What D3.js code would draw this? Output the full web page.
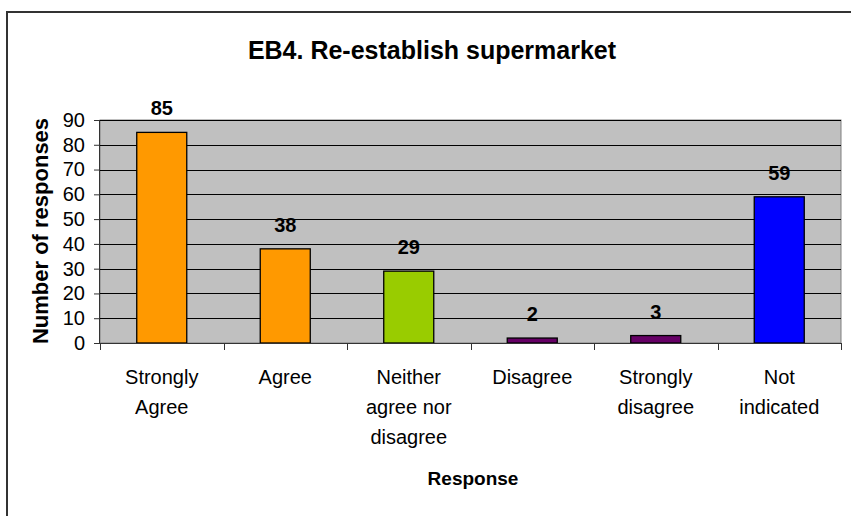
<!DOCTYPE html>
<html>
<head>
<meta charset="utf-8">
<script src="https://cdn.jsdelivr.net/npm/d3@7"></script>
<style>
  html, body { margin: 0; padding: 0; background: #fff; }
  svg { display: block; font-family: "Liberation Sans", Arial, sans-serif; }
</style>
</head>
<body>
<svg id="chart" width="851" height="516"></svg>
<script>
(function () {
  "use strict";

  // data
  const categories = [
    ["Strongly", "Agree"],
    ["Agree"],
    ["Neither", "agree nor", "disagree"],
    ["Disagree"],
    ["Strongly", "disagree"],
    ["Not", "indicated"],
  ];
  const values = [85, 38, 29, 2, 3, 59];
  const barColors = ["#ff9900", "#ff9900", "#99cc00", "#660066", "#660066", "#0000ff"];
  const yTicks = [0, 10, 20, 30, 40, 50, 60, 70, 80, 90];

  const W = 851, H = 516;
  const m = { t: 120, l: 100 };
  const iw = 741, ih = 223;

  const svg = d3.select("#chart");

  // outer chart border (runs off the right / bottom of the picture)
  svg.append("rect").attr("x", 7).attr("y", 12).attr("width", W).attr("height", H)
    .attr("fill", "#fff").attr("stroke", "#333").attr("stroke-width", 2);

  svg.append("text").attr("x", 432).attr("y", 59).attr("text-anchor", "middle")
    .attr("font-size", 25).attr("font-weight", "bold")
    .text("EB4. Re-establish supermarket");

  const g = svg.append("g").attr("transform", `translate(${m.l},${m.t})`);

  const idx = values.map((_, i) => i);
  const x = d3.scaleBand().domain(idx).range([0, iw]).paddingInner(0.595).paddingOuter(0.2975);
  const y = d3.scaleLinear().domain([0, 90]).range([ih, 0]);
  const step = x.step();

  // plot area
  g.append("rect").attr("width", iw).attr("height", ih).attr("fill", "#c0c0c0")
    .attr("stroke", "#808080").attr("stroke-width", 1);

  // gridlines
  g.append("g").selectAll("line").data(yTicks.filter((t) => t > 0)).enter().append("line")
    .attr("x1", 0).attr("x2", iw).attr("y1", (t) => Math.round(y(t)) + 0.5).attr("y2", (t) => Math.round(y(t)) + 0.5)
    .attr("stroke", "#000").attr("stroke-width", 1);

  // bars
  g.append("g").selectAll("rect").data(values).enter().append("rect")
    .attr("x", (v, i) => x(i)).attr("width", x.bandwidth())
    .attr("y", (v) => y(v)).attr("height", (v) => ih - y(v))
    .attr("fill", (v, i) => barColors[i]).attr("stroke", "#000").attr("stroke-width", 1.3);

  // value labels
  g.append("g").selectAll("text").data(values).enter().append("text")
    .attr("x", (v, i) => x(i) + x.bandwidth() / 2).attr("y", (v) => y(v) - 17)
    .attr("text-anchor", "middle").attr("font-size", 20).attr("font-weight", "bold")
    .text((v) => v);

  // y axis
  const ya = g.append("g").call(d3.axisLeft(y).tickValues(yTicks).tickSize(6).tickPadding(9));
  ya.select(".domain").attr("stroke", "#333").attr("d", `M-0.5,0V${ih}`);
  ya.selectAll("line").attr("stroke", "#333");
  ya.selectAll("text").attr("font-size", 20).attr("font-family", "Liberation Sans, Arial, sans-serif").attr("fill", "#000");

  // x axis: ticks at category boundaries
  const xa = g.append("g").attr("transform", `translate(0,${ih})`);
  xa.append("line").attr("x1", 0).attr("x2", iw).attr("y1", 0.5).attr("y2", 0.5).attr("stroke", "#333");
  xa.selectAll(".tk").data(d3.range(values.length + 1)).enter().append("line")
    .attr("x1", (k) => Math.round(k * step) + 0.5).attr("x2", (k) => Math.round(k * step) + 0.5)
    .attr("y1", 0).attr("y2", 7).attr("stroke", "#333");
  xa.selectAll(".cat").data(categories).enter().append("text")
    .attr("x", (c, i) => x(i) + x.bandwidth() / 2).attr("y", 41)
    .attr("text-anchor", "middle").attr("font-size", 20)
    .selectAll("tspan").data((c) => c).enter().append("tspan")
    .attr("x", function () { return this.parentNode.getAttribute("x"); })
    .attr("dy", (l, j) => (j === 0 ? 0 : 30)).text((l) => l);

  // axis titles
  svg.append("text").attr("x", 473).attr("y", 485).attr("text-anchor", "middle")
    .attr("font-size", 19).attr("font-weight", "bold").text("Response");
  svg.append("text").attr("transform", "translate(48,231) rotate(-90)").attr("text-anchor", "middle")
    .attr("font-size", 22).attr("font-weight", "bold").text("Number of responses");
})();
</script>
</body>
</html>
